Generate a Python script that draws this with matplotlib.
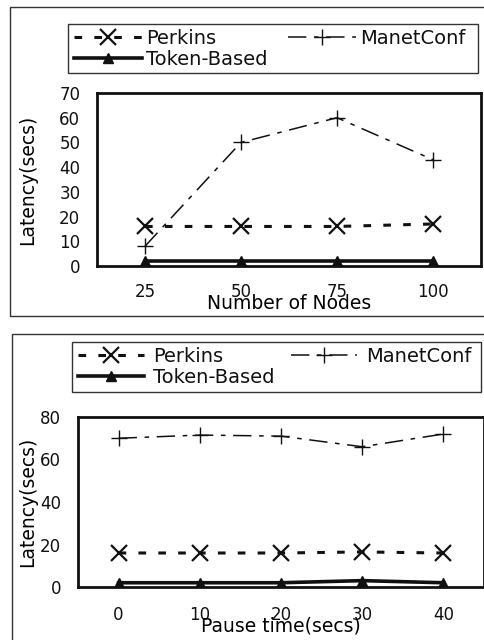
import matplotlib
matplotlib.use("Agg")
import matplotlib.pyplot as plt
from matplotlib.patches import Rectangle

# data
nodes = ["25", "50", "75", "100"]
perkins_nodes = [16, 16, 16, 17]
manet_nodes = [8, 50, 60, 43]
token_nodes = [2, 2, 2, 2]

pause = ["0", "10", "20", "30", "40"]
perkins_pause = [16, 16, 16, 16.5, 16]
manet_pause = [70, 71.5, 71, 66, 72]
token_pause = [2, 2, 2, 3, 2]

INK = "#111111"
plt.rcParams.update({"font.family": "DejaVu Sans", "font.size": 12,
                     "text.color": INK, "xtick.color": INK, "ytick.color": INK})

W, H = 485, 640
fig = plt.figure(figsize=(W / 100, H / 100), dpi=100)


def box(px_left, px_top, px_right, px_bottom):
    return [px_left / W, 1 - px_bottom / H, (px_right - px_left) / W,
            (px_bottom - px_top) / H]


def rect_px(l, t, r, b, lw):
    fig.add_artist(Rectangle((l / W, 1 - b / H), (r - l) / W, (b - t) / H,
                             transform=fig.transFigure, fill=False,
                             lw=lw, ec="#333333"))


def panel(rect, frame, legbox, cats, perk, manet, token, ymax, ystep,
          xlabel, xpad, xlpad, ylpad, hlen, textpad, colsp):
    rect_px(*frame, lw=1.0)
    rect_px(*legbox, lw=1.0)
    ax = fig.add_axes(rect)
    x = range(len(cats))
    hp, = ax.plot(x, perk, color=INK, lw=2.2, dashes=(2.5, 4), marker="x",
                  ms=12, mew=1.6, label="Perkins")
    hm, = ax.plot(x, manet, color=INK, lw=1.1, dashes=(12, 5, 3, 5), marker="+",
                  ms=11, mew=1.0, label="ManetConf")
    ht, = ax.plot(x, token, color=INK, lw=2.6, marker="^", ms=7,
                  label="Token-Based")
    ax.set_xlim(-0.5, len(cats) - 0.5)
    ax.set_ylim(0, ymax)
    ax.set_yticks(range(0, ymax + 1, ystep))
    ax.set_xticks(list(x))
    ax.set_xticklabels(cats)
    ax.tick_params(length=0, labelsize=12, pad=12)
    ax.tick_params(axis="x", pad=xpad)
    for s in ax.spines.values():
        s.set_linewidth(2.0)
        s.set_color(INK)
    ax.set_xlabel(xlabel, fontsize=13.5, labelpad=xlpad)
    ax.set_ylabel("Latency(secs)", fontsize=13.5, labelpad=ylpad)
    fig.legend([hp, ht, hm], ["Perkins", "Token-Based", "ManetConf"],
               ncol=2, loc="upper left",
               bbox_to_anchor=((legbox[0] + 2) / W, 1 - (legbox[1] + 1) / H),
               frameon=False, fontsize=14, handlelength=hlen,
               handletextpad=textpad, columnspacing=colsp, borderpad=0.2,
               labelspacing=0.12, borderaxespad=0)
    return ax


panel(box(97, 93, 481, 266), (10, 7, 490, 316), (68, 24, 478, 73),
      nodes, perkins_nodes, manet_nodes, token_nodes,
      70, 10, "Number of Nodes", 12, -5, 16, 3.5, 0.2, 1.05)
panel(box(78, 417, 484, 587), (12, 334, 490, 645), (72, 342, 481, 392),
      pause, perkins_pause, manet_pause, token_pause,
      80, 20, "Pause time(secs)", 14, -6, 2, 3.4, 0.45, 0.85)

fig.savefig("out.png", dpi=100)
